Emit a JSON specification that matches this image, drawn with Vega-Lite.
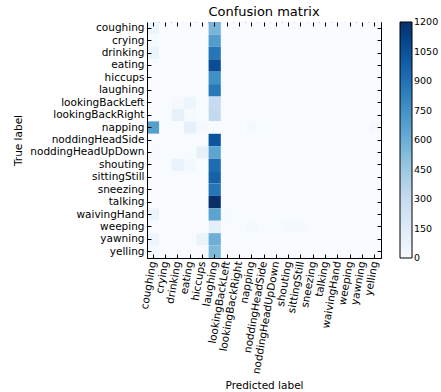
{
"$schema": "https://vega.github.io/schema/vega-lite/v6.json",
"width": 234, "height": 236,
"autosize": {"type": "none"},
"padding": {"left": 147, "top": 22, "right": 60, "bottom": 134},
"background": "white",
"config": {
 "font": "DejaVu Sans",
 "view": {"stroke": "black", "strokeWidth": 1},
 "axis": {"domainColor": "black", "tickColor": "black", "labelColor": "black", "titleColor": "black", "labelFontSize": 10.5, "titleFontSize": 10.5, "titleFontWeight": "normal", "grid": false, "tickSize": -4, "labelPadding": 7}
},
"title": {"text": "Confusion matrix", "fontSize": 13, "fontWeight": "normal", "color": "black", "offset": 3},
"data": {"values": [
{"t":"coughing","p":"coughing","v":60},{"t":"coughing","p":"crying","v":0},{"t":"coughing","p":"drinking","v":0},{"t":"coughing","p":"eating","v":0},{"t":"coughing","p":"hiccups","v":0},{"t":"coughing","p":"laughing","v":560},{"t":"coughing","p":"lookingBackLeft","v":0},{"t":"coughing","p":"lookingBackRight","v":0},{"t":"coughing","p":"napping","v":0},{"t":"coughing","p":"noddingHeadSide","v":0},{"t":"coughing","p":"noddingHeadUpDown","v":0},{"t":"coughing","p":"shouting","v":0},{"t":"coughing","p":"sittingStill","v":0},{"t":"coughing","p":"sneezing","v":0},{"t":"coughing","p":"talking","v":0},{"t":"coughing","p":"waivingHand","v":0},{"t":"coughing","p":"weeping","v":0},{"t":"coughing","p":"yawning","v":0},{"t":"coughing","p":"yelling","v":0},
{"t":"crying","p":"coughing","v":10},{"t":"crying","p":"crying","v":0},{"t":"crying","p":"drinking","v":0},{"t":"crying","p":"eating","v":0},{"t":"crying","p":"hiccups","v":0},{"t":"crying","p":"laughing","v":690},{"t":"crying","p":"lookingBackLeft","v":0},{"t":"crying","p":"lookingBackRight","v":0},{"t":"crying","p":"napping","v":0},{"t":"crying","p":"noddingHeadSide","v":0},{"t":"crying","p":"noddingHeadUpDown","v":0},{"t":"crying","p":"shouting","v":0},{"t":"crying","p":"sittingStill","v":0},{"t":"crying","p":"sneezing","v":0},{"t":"crying","p":"talking","v":0},{"t":"crying","p":"waivingHand","v":0},{"t":"crying","p":"weeping","v":0},{"t":"crying","p":"yawning","v":0},{"t":"crying","p":"yelling","v":0},
{"t":"drinking","p":"coughing","v":70},{"t":"drinking","p":"crying","v":0},{"t":"drinking","p":"drinking","v":0},{"t":"drinking","p":"eating","v":0},{"t":"drinking","p":"hiccups","v":0},{"t":"drinking","p":"laughing","v":880},{"t":"drinking","p":"lookingBackLeft","v":0},{"t":"drinking","p":"lookingBackRight","v":0},{"t":"drinking","p":"napping","v":0},{"t":"drinking","p":"noddingHeadSide","v":0},{"t":"drinking","p":"noddingHeadUpDown","v":0},{"t":"drinking","p":"shouting","v":0},{"t":"drinking","p":"sittingStill","v":0},{"t":"drinking","p":"sneezing","v":0},{"t":"drinking","p":"talking","v":0},{"t":"drinking","p":"waivingHand","v":0},{"t":"drinking","p":"weeping","v":0},{"t":"drinking","p":"yawning","v":0},{"t":"drinking","p":"yelling","v":0},
{"t":"eating","p":"coughing","v":0},{"t":"eating","p":"crying","v":0},{"t":"eating","p":"drinking","v":0},{"t":"eating","p":"eating","v":0},{"t":"eating","p":"hiccups","v":0},{"t":"eating","p":"laughing","v":1070},{"t":"eating","p":"lookingBackLeft","v":0},{"t":"eating","p":"lookingBackRight","v":0},{"t":"eating","p":"napping","v":0},{"t":"eating","p":"noddingHeadSide","v":0},{"t":"eating","p":"noddingHeadUpDown","v":0},{"t":"eating","p":"shouting","v":0},{"t":"eating","p":"sittingStill","v":0},{"t":"eating","p":"sneezing","v":0},{"t":"eating","p":"talking","v":0},{"t":"eating","p":"waivingHand","v":0},{"t":"eating","p":"weeping","v":0},{"t":"eating","p":"yawning","v":0},{"t":"eating","p":"yelling","v":0},
{"t":"hiccups","p":"coughing","v":0},{"t":"hiccups","p":"crying","v":0},{"t":"hiccups","p":"drinking","v":0},{"t":"hiccups","p":"eating","v":0},{"t":"hiccups","p":"hiccups","v":0},{"t":"hiccups","p":"laughing","v":760},{"t":"hiccups","p":"lookingBackLeft","v":0},{"t":"hiccups","p":"lookingBackRight","v":0},{"t":"hiccups","p":"napping","v":0},{"t":"hiccups","p":"noddingHeadSide","v":0},{"t":"hiccups","p":"noddingHeadUpDown","v":0},{"t":"hiccups","p":"shouting","v":0},{"t":"hiccups","p":"sittingStill","v":0},{"t":"hiccups","p":"sneezing","v":0},{"t":"hiccups","p":"talking","v":0},{"t":"hiccups","p":"waivingHand","v":0},{"t":"hiccups","p":"weeping","v":0},{"t":"hiccups","p":"yawning","v":0},{"t":"hiccups","p":"yelling","v":0},
{"t":"laughing","p":"coughing","v":0},{"t":"laughing","p":"crying","v":0},{"t":"laughing","p":"drinking","v":0},{"t":"laughing","p":"eating","v":0},{"t":"laughing","p":"hiccups","v":0},{"t":"laughing","p":"laughing","v":870},{"t":"laughing","p":"lookingBackLeft","v":0},{"t":"laughing","p":"lookingBackRight","v":0},{"t":"laughing","p":"napping","v":0},{"t":"laughing","p":"noddingHeadSide","v":0},{"t":"laughing","p":"noddingHeadUpDown","v":0},{"t":"laughing","p":"shouting","v":0},{"t":"laughing","p":"sittingStill","v":0},{"t":"laughing","p":"sneezing","v":0},{"t":"laughing","p":"talking","v":0},{"t":"laughing","p":"waivingHand","v":0},{"t":"laughing","p":"weeping","v":0},{"t":"laughing","p":"yawning","v":0},{"t":"laughing","p":"yelling","v":0},
{"t":"lookingBackLeft","p":"coughing","v":0},{"t":"lookingBackLeft","p":"crying","v":0},{"t":"lookingBackLeft","p":"drinking","v":15},{"t":"lookingBackLeft","p":"eating","v":60},{"t":"lookingBackLeft","p":"hiccups","v":0},{"t":"lookingBackLeft","p":"laughing","v":300},{"t":"lookingBackLeft","p":"lookingBackLeft","v":0},{"t":"lookingBackLeft","p":"lookingBackRight","v":0},{"t":"lookingBackLeft","p":"napping","v":0},{"t":"lookingBackLeft","p":"noddingHeadSide","v":0},{"t":"lookingBackLeft","p":"noddingHeadUpDown","v":0},{"t":"lookingBackLeft","p":"shouting","v":0},{"t":"lookingBackLeft","p":"sittingStill","v":0},{"t":"lookingBackLeft","p":"sneezing","v":0},{"t":"lookingBackLeft","p":"talking","v":0},{"t":"lookingBackLeft","p":"waivingHand","v":0},{"t":"lookingBackLeft","p":"weeping","v":0},{"t":"lookingBackLeft","p":"yawning","v":0},{"t":"lookingBackLeft","p":"yelling","v":0},
{"t":"lookingBackRight","p":"coughing","v":0},{"t":"lookingBackRight","p":"crying","v":0},{"t":"lookingBackRight","p":"drinking","v":90},{"t":"lookingBackRight","p":"eating","v":10},{"t":"lookingBackRight","p":"hiccups","v":0},{"t":"lookingBackRight","p":"laughing","v":310},{"t":"lookingBackRight","p":"lookingBackLeft","v":0},{"t":"lookingBackRight","p":"lookingBackRight","v":0},{"t":"lookingBackRight","p":"napping","v":0},{"t":"lookingBackRight","p":"noddingHeadSide","v":0},{"t":"lookingBackRight","p":"noddingHeadUpDown","v":0},{"t":"lookingBackRight","p":"shouting","v":0},{"t":"lookingBackRight","p":"sittingStill","v":0},{"t":"lookingBackRight","p":"sneezing","v":0},{"t":"lookingBackRight","p":"talking","v":0},{"t":"lookingBackRight","p":"waivingHand","v":0},{"t":"lookingBackRight","p":"weeping","v":0},{"t":"lookingBackRight","p":"yawning","v":0},{"t":"lookingBackRight","p":"yelling","v":0},
{"t":"napping","p":"coughing","v":680},{"t":"napping","p":"crying","v":0},{"t":"napping","p":"drinking","v":0},{"t":"napping","p":"eating","v":100},{"t":"napping","p":"hiccups","v":15},{"t":"napping","p":"laughing","v":0},{"t":"napping","p":"lookingBackLeft","v":0},{"t":"napping","p":"lookingBackRight","v":0},{"t":"napping","p":"napping","v":20},{"t":"napping","p":"noddingHeadSide","v":0},{"t":"napping","p":"noddingHeadUpDown","v":0},{"t":"napping","p":"shouting","v":0},{"t":"napping","p":"sittingStill","v":0},{"t":"napping","p":"sneezing","v":0},{"t":"napping","p":"talking","v":0},{"t":"napping","p":"waivingHand","v":0},{"t":"napping","p":"weeping","v":0},{"t":"napping","p":"yawning","v":0},{"t":"napping","p":"yelling","v":15},
{"t":"noddingHeadSide","p":"coughing","v":0},{"t":"noddingHeadSide","p":"crying","v":0},{"t":"noddingHeadSide","p":"drinking","v":0},{"t":"noddingHeadSide","p":"eating","v":0},{"t":"noddingHeadSide","p":"hiccups","v":0},{"t":"noddingHeadSide","p":"laughing","v":1030},{"t":"noddingHeadSide","p":"lookingBackLeft","v":0},{"t":"noddingHeadSide","p":"lookingBackRight","v":0},{"t":"noddingHeadSide","p":"napping","v":0},{"t":"noddingHeadSide","p":"noddingHeadSide","v":0},{"t":"noddingHeadSide","p":"noddingHeadUpDown","v":0},{"t":"noddingHeadSide","p":"shouting","v":0},{"t":"noddingHeadSide","p":"sittingStill","v":0},{"t":"noddingHeadSide","p":"sneezing","v":0},{"t":"noddingHeadSide","p":"talking","v":0},{"t":"noddingHeadSide","p":"waivingHand","v":0},{"t":"noddingHeadSide","p":"weeping","v":0},{"t":"noddingHeadSide","p":"yawning","v":0},{"t":"noddingHeadSide","p":"yelling","v":0},
{"t":"noddingHeadUpDown","p":"coughing","v":10},{"t":"noddingHeadUpDown","p":"crying","v":0},{"t":"noddingHeadUpDown","p":"drinking","v":0},{"t":"noddingHeadUpDown","p":"eating","v":0},{"t":"noddingHeadUpDown","p":"hiccups","v":90},{"t":"noddingHeadUpDown","p":"laughing","v":650},{"t":"noddingHeadUpDown","p":"lookingBackLeft","v":0},{"t":"noddingHeadUpDown","p":"lookingBackRight","v":0},{"t":"noddingHeadUpDown","p":"napping","v":0},{"t":"noddingHeadUpDown","p":"noddingHeadSide","v":0},{"t":"noddingHeadUpDown","p":"noddingHeadUpDown","v":0},{"t":"noddingHeadUpDown","p":"shouting","v":0},{"t":"noddingHeadUpDown","p":"sittingStill","v":0},{"t":"noddingHeadUpDown","p":"sneezing","v":0},{"t":"noddingHeadUpDown","p":"talking","v":0},{"t":"noddingHeadUpDown","p":"waivingHand","v":0},{"t":"noddingHeadUpDown","p":"weeping","v":0},{"t":"noddingHeadUpDown","p":"yawning","v":0},{"t":"noddingHeadUpDown","p":"yelling","v":0},
{"t":"shouting","p":"coughing","v":0},{"t":"shouting","p":"crying","v":0},{"t":"shouting","p":"drinking","v":80},{"t":"shouting","p":"eating","v":25},{"t":"shouting","p":"hiccups","v":0},{"t":"shouting","p":"laughing","v":920},{"t":"shouting","p":"lookingBackLeft","v":0},{"t":"shouting","p":"lookingBackRight","v":0},{"t":"shouting","p":"napping","v":0},{"t":"shouting","p":"noddingHeadSide","v":0},{"t":"shouting","p":"noddingHeadUpDown","v":0},{"t":"shouting","p":"shouting","v":0},{"t":"shouting","p":"sittingStill","v":0},{"t":"shouting","p":"sneezing","v":0},{"t":"shouting","p":"talking","v":0},{"t":"shouting","p":"waivingHand","v":0},{"t":"shouting","p":"weeping","v":0},{"t":"shouting","p":"yawning","v":0},{"t":"shouting","p":"yelling","v":0},
{"t":"sittingStill","p":"coughing","v":0},{"t":"sittingStill","p":"crying","v":0},{"t":"sittingStill","p":"drinking","v":0},{"t":"sittingStill","p":"eating","v":0},{"t":"sittingStill","p":"hiccups","v":0},{"t":"sittingStill","p":"laughing","v":970},{"t":"sittingStill","p":"lookingBackLeft","v":0},{"t":"sittingStill","p":"lookingBackRight","v":0},{"t":"sittingStill","p":"napping","v":0},{"t":"sittingStill","p":"noddingHeadSide","v":0},{"t":"sittingStill","p":"noddingHeadUpDown","v":0},{"t":"sittingStill","p":"shouting","v":0},{"t":"sittingStill","p":"sittingStill","v":0},{"t":"sittingStill","p":"sneezing","v":0},{"t":"sittingStill","p":"talking","v":0},{"t":"sittingStill","p":"waivingHand","v":0},{"t":"sittingStill","p":"weeping","v":0},{"t":"sittingStill","p":"yawning","v":0},{"t":"sittingStill","p":"yelling","v":0},
{"t":"sneezing","p":"coughing","v":0},{"t":"sneezing","p":"crying","v":0},{"t":"sneezing","p":"drinking","v":0},{"t":"sneezing","p":"eating","v":0},{"t":"sneezing","p":"hiccups","v":0},{"t":"sneezing","p":"laughing","v":880},{"t":"sneezing","p":"lookingBackLeft","v":0},{"t":"sneezing","p":"lookingBackRight","v":0},{"t":"sneezing","p":"napping","v":0},{"t":"sneezing","p":"noddingHeadSide","v":0},{"t":"sneezing","p":"noddingHeadUpDown","v":0},{"t":"sneezing","p":"shouting","v":0},{"t":"sneezing","p":"sittingStill","v":0},{"t":"sneezing","p":"sneezing","v":0},{"t":"sneezing","p":"talking","v":0},{"t":"sneezing","p":"waivingHand","v":0},{"t":"sneezing","p":"weeping","v":0},{"t":"sneezing","p":"yawning","v":0},{"t":"sneezing","p":"yelling","v":0},
{"t":"talking","p":"coughing","v":0},{"t":"talking","p":"crying","v":0},{"t":"talking","p":"drinking","v":0},{"t":"talking","p":"eating","v":0},{"t":"talking","p":"hiccups","v":0},{"t":"talking","p":"laughing","v":1200},{"t":"talking","p":"lookingBackLeft","v":0},{"t":"talking","p":"lookingBackRight","v":0},{"t":"talking","p":"napping","v":0},{"t":"talking","p":"noddingHeadSide","v":0},{"t":"talking","p":"noddingHeadUpDown","v":0},{"t":"talking","p":"shouting","v":0},{"t":"talking","p":"sittingStill","v":0},{"t":"talking","p":"sneezing","v":0},{"t":"talking","p":"talking","v":0},{"t":"talking","p":"waivingHand","v":0},{"t":"talking","p":"weeping","v":0},{"t":"talking","p":"yawning","v":0},{"t":"talking","p":"yelling","v":0},
{"t":"waivingHand","p":"coughing","v":70},{"t":"waivingHand","p":"crying","v":0},{"t":"waivingHand","p":"drinking","v":0},{"t":"waivingHand","p":"eating","v":0},{"t":"waivingHand","p":"hiccups","v":0},{"t":"waivingHand","p":"laughing","v":660},{"t":"waivingHand","p":"lookingBackLeft","v":10},{"t":"waivingHand","p":"lookingBackRight","v":0},{"t":"waivingHand","p":"napping","v":0},{"t":"waivingHand","p":"noddingHeadSide","v":0},{"t":"waivingHand","p":"noddingHeadUpDown","v":0},{"t":"waivingHand","p":"shouting","v":0},{"t":"waivingHand","p":"sittingStill","v":0},{"t":"waivingHand","p":"sneezing","v":0},{"t":"waivingHand","p":"talking","v":0},{"t":"waivingHand","p":"waivingHand","v":0},{"t":"waivingHand","p":"weeping","v":0},{"t":"waivingHand","p":"yawning","v":0},{"t":"waivingHand","p":"yelling","v":0},
{"t":"weeping","p":"coughing","v":0},{"t":"weeping","p":"crying","v":0},{"t":"weeping","p":"drinking","v":0},{"t":"weeping","p":"eating","v":0},{"t":"weeping","p":"hiccups","v":0},{"t":"weeping","p":"laughing","v":110},{"t":"weeping","p":"lookingBackLeft","v":0},{"t":"weeping","p":"lookingBackRight","v":0},{"t":"weeping","p":"napping","v":20},{"t":"weeping","p":"noddingHeadSide","v":0},{"t":"weeping","p":"noddingHeadUpDown","v":0},{"t":"weeping","p":"shouting","v":20},{"t":"weeping","p":"sittingStill","v":15},{"t":"weeping","p":"sneezing","v":0},{"t":"weeping","p":"talking","v":0},{"t":"weeping","p":"waivingHand","v":0},{"t":"weeping","p":"weeping","v":0},{"t":"weeping","p":"yawning","v":0},{"t":"weeping","p":"yelling","v":0},
{"t":"yawning","p":"coughing","v":60},{"t":"yawning","p":"crying","v":0},{"t":"yawning","p":"drinking","v":0},{"t":"yawning","p":"eating","v":0},{"t":"yawning","p":"hiccups","v":70},{"t":"yawning","p":"laughing","v":600},{"t":"yawning","p":"lookingBackLeft","v":0},{"t":"yawning","p":"lookingBackRight","v":0},{"t":"yawning","p":"napping","v":0},{"t":"yawning","p":"noddingHeadSide","v":0},{"t":"yawning","p":"noddingHeadUpDown","v":0},{"t":"yawning","p":"shouting","v":0},{"t":"yawning","p":"sittingStill","v":0},{"t":"yawning","p":"sneezing","v":0},{"t":"yawning","p":"talking","v":0},{"t":"yawning","p":"waivingHand","v":0},{"t":"yawning","p":"weeping","v":0},{"t":"yawning","p":"yawning","v":0},{"t":"yawning","p":"yelling","v":0},
{"t":"yelling","p":"coughing","v":20},{"t":"yelling","p":"crying","v":0},{"t":"yelling","p":"drinking","v":0},{"t":"yelling","p":"eating","v":0},{"t":"yelling","p":"hiccups","v":0},{"t":"yelling","p":"laughing","v":540},{"t":"yelling","p":"lookingBackLeft","v":0},{"t":"yelling","p":"lookingBackRight","v":0},{"t":"yelling","p":"napping","v":0},{"t":"yelling","p":"noddingHeadSide","v":0},{"t":"yelling","p":"noddingHeadUpDown","v":0},{"t":"yelling","p":"shouting","v":0},{"t":"yelling","p":"sittingStill","v":0},{"t":"yelling","p":"sneezing","v":0},{"t":"yelling","p":"talking","v":0},{"t":"yelling","p":"waivingHand","v":0},{"t":"yelling","p":"weeping","v":0},{"t":"yelling","p":"yawning","v":0},{"t":"yelling","p":"yelling","v":0}
]},
"layer": [
 {
  "mark": {"type": "rect"},
  "encoding": {
   "x": {"field": "p", "type": "nominal", "sort": null, "scale": {"paddingInner": 0, "paddingOuter": 0},
         "axis": {"orient": "bottom", "title": "Predicted label", "labelAngle": -80, "labelAlign": "right", "labelBaseline": "middle", "titlePadding": 6}},
   "y": {"field": "t", "type": "nominal", "sort": null, "scale": {"paddingInner": 0, "paddingOuter": 0},
         "axis": {"orient": "left", "title": "True label", "titlePadding": 6}},
   "color": {"field": "v", "type": "quantitative",
     "scale": {"domain": [0,150,300,450,600,750,900,1050,1200], "range": ["#f7fbff","#deebf7","#c6dbef","#9ecae1","#6baed6","#4292c6","#2171b5","#08519c","#08306b"], "interpolate": "rgb"},
     "legend": {"orient": "right", "offset": 18, "title": null, "direction": "vertical", "gradientLength": 236, "gradientThickness": 12, "values": [0,150,300,450,600,750,900,1050,1200], "format": "d", "labelFontSize": 9.5, "labelColor": "black", "gradientStrokeColor": "black", "gradientStrokeWidth": 1, "labelOffset": 2, "labelOverlap": false,
       "encode": {"labels": {"update": {"baseline": {"value": "middle"}}}}}}
  }
 },
 {
  "mark": {"type": "rect", "opacity": 0},
  "encoding": {
   "x": {"field": "p", "type": "nominal", "sort": null, "axis": {"orient": "top", "labels": false, "title": null, "domain": false}},
   "y": {"field": "t", "type": "nominal", "sort": null, "axis": {"orient": "right", "labels": false, "title": null, "domain": false}}
  }
 }
],
"resolve": {"axis": {"x": "independent", "y": "independent"}}
}
